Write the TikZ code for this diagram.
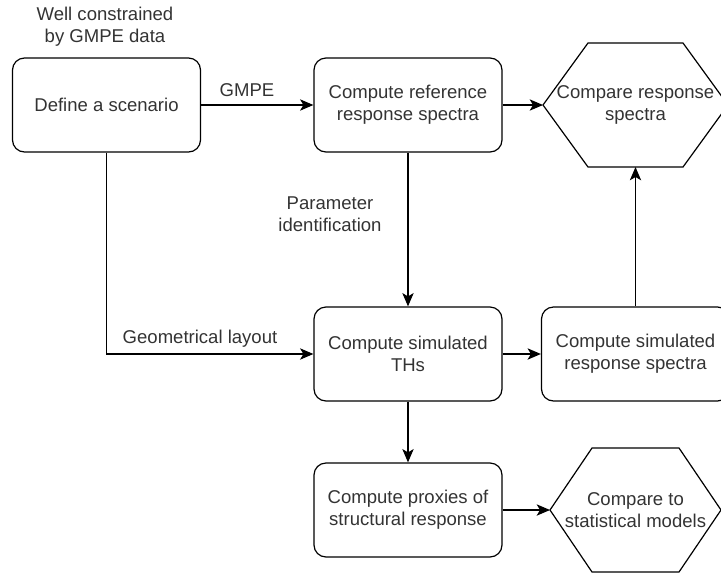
\documentclass[tikz,border=0pt]{standalone}
\usepackage{fontspec}
\setmainfont{Liberation Sans}
\usepackage{tikz}
\usetikzlibrary{arrows.meta}
\usetikzlibrary{positioning}

\definecolor{txtgray}{HTML}{333333}

\newcommand{\hexoutline}[2]{%
	\draw[line width=0.9pt] (#1.west) -- ([xshift=#2]#1.north west) -- ([xshift=-#2]#1.north east) -- (#1.east)
		-- ([xshift=-#2]#1.south east) -- ([xshift=#2]#1.south west) -- cycle;}

\begin{document}
\begin{tikzpicture}[x=0.75pt,y=-0.75pt,
		every node/.style={font=\fontsize{13.9}{16.3}\selectfont,text=txtgray,align=center,inner sep=0pt},
		procbox/.style={draw=black,line width=0.9pt,rounded corners=9pt,minimum width=141pt,minimum height=70.5pt},
		hexbox/.style={outer sep=0pt,minimum height=93pt},
		arr/.style={-{Stealth[length=10pt,width=8.5pt,inset=2.5pt]},line width=0.9pt}]
			\useasboundingbox (0,0) rectangle (721,572);

			\node[procbox] (def) at (106.5,105) {Define a scenario};
			\node (wellc) at (105,27) {Well constrained\\by GMPE data};
			\node[procbox] (ref) at (408,105) {Compute reference\\response spectra};
			\node[hexbox,minimum width=138.75pt] (cmpspec) at (635.5,105) {Compare response\\spectra};
			\hexoutline{cmpspec}{33.75pt}
			\node[procbox] (sim) at (408,354) {Compute simulated\\THs};
			\node[procbox] (simspec) at (635.5,354) {Compute simulated\\response spectra};
			\node[procbox] (prox) at (408,510) {Compute proxies of\\structural response};
			\node[hexbox,minimum width=128.25pt] (cmpstat) at (635.5,510) {Compare to\\statistical models};
			\hexoutline{cmpstat}{31.5pt}

			\node (gmpe) at (247,90) {GMPE};
			\node (param) at (330,214) {Parameter\\identification};
			\node (geom) at (200,339) {Geometrical layout};

			\draw[arr] (def.east) -- (ref.west);
			\draw[arr] (ref.east) -- (cmpspec.west);
			\draw[arr] (ref.south) -- (sim.north);
			\draw[arr] (def.south) |- (sim.west);
			\draw[arr] (sim.east) -- (simspec.west);
			\draw[arr] (simspec.north) -- (cmpspec.south);
			\draw[arr] (sim.south) -- (prox.north);
			\draw[arr] (prox.east) -- (cmpstat.west);
		\end{tikzpicture}
\end{document}
